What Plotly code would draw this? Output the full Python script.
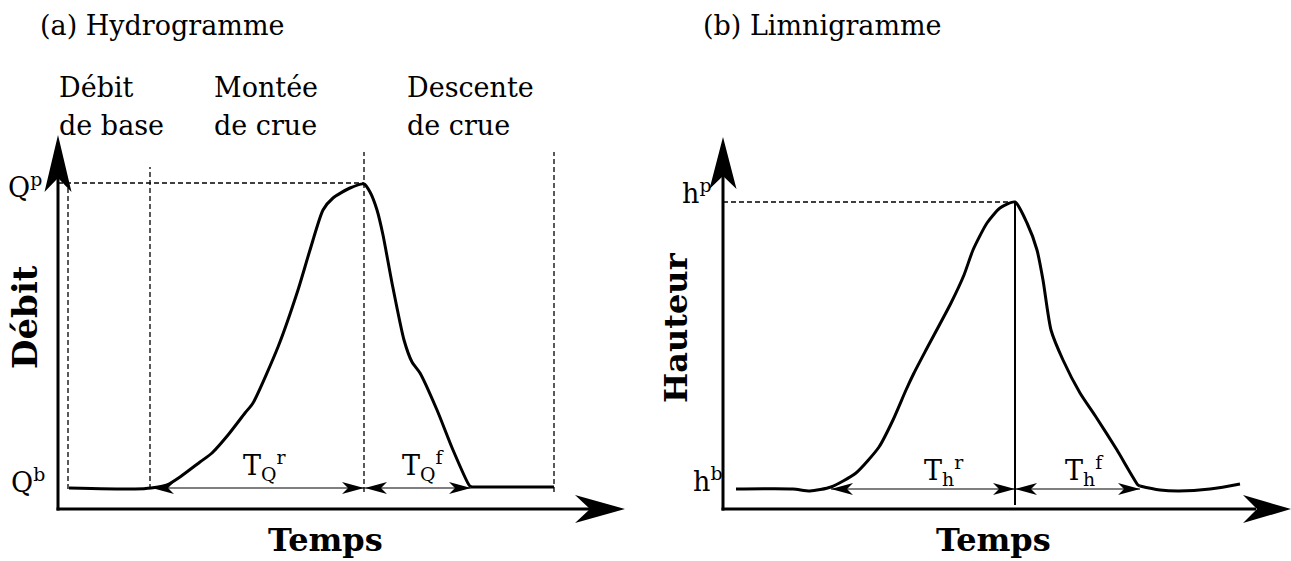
import plotly.graph_objects as go

# ---------------- data (schematic units: time / level) ----------------
# Panel (a) Hydrogramme
a_t = [1.1, 7.7, 9.3, 10.9, 12.2, 14.2, 15.4, 17.0, 18.7, 19.5, 22.0, 24.0, 25.2,
       26.5, 27.5, 29.2, 30.6, 31.2, 31.9, 32.5, 33.4, 34.6, 35.4, 36.2, 37.9,
       39.5, 41.1, 41.3]
a_q = [2.1, 2.0, 2.1, 2.4, 3.2, 4.7, 5.6, 7.4, 9.6, 10.6, 16.2, 21.9, 25.9,
       29.9, 31.1, 32.1, 32.5, 31.7, 29.9, 27.4, 22.6, 16.9, 14.7, 13.6, 9.9,
       5.9, 2.4, 2.2]
a_tail_t = [41.3, 49.6]
a_tail_q = [2.2, 2.2]

# Panel (b) Limnigramme
b_t = [1.3, 7.0, 8.7, 10.8, 13.3, 15.6, 17.0, 18.3, 19.1, 20.3, 22.8, 24.1,
       25.0, 26.4, 27.7, 29.2, 30.4, 31.4, 32.0, 32.8, 34.0, 35.7, 37.3, 39.4,
       41.5, 41.7]
b_h = [2.0, 2.0, 1.8, 2.2, 3.6, 6.2, 8.9, 11.9, 13.6, 15.9, 20.6, 23.4,
       25.9, 28.6, 30.1, 30.7, 28.6, 25.9, 22.9, 17.9, 14.9, 11.6, 9.2, 5.9,
       2.4, 2.3]
b_tail_t = [41.7, 43.7, 45.6, 48.7, 51.7]
b_tail_h = [2.3, 1.9, 1.8, 2.0, 2.5]

# key levels / times
a_peak_t, a_peak_q, a_base_q = 30.6, 32.6, 2.1
a_start_t, a_end_t = 9.4, 41.3
a_period_t = [1.0, 9.2, 30.6, 49.6]          # dashed period boundaries
a_period_top = [32.6, 34.2, 35.7, 35.7]
a_period_bot = [2.0, 2.0, 1.7, 1.7]
b_peak_t, b_peak_h, b_base_h = 29.2, 30.7, 2.0
b_start_t, b_end_t = 10.8, 41.7

# axes extents
a_xmax, a_ymax = 56.7, 37.4
b_xmax, b_ymax = 56.8, 37.2

# text labels
a_title, b_title = "(a) Hydrogramme", "(b) Limnigramme"
phase_line1 = ["Débit", "Montée", "Descente"]
phase_line2 = ["de base", "de crue", "de crue"]
phase_left = [-0.1, 15.4, 34.7]

SERIF = "DejaVu Serif"

fig = go.Figure()

# ---------------- axes layout ----------------
W, H = 1291, 561
fig.update_layout(
    width=W, height=H, margin=dict(l=0, r=0, t=0, b=0),
    paper_bgcolor="white", plot_bgcolor="white", showlegend=False,
    hovermode=False,
    xaxis=dict(domain=[0, 645 / W], range=[-5.8, 58.7], visible=False, fixedrange=True),
    yaxis=dict(domain=[0, 1], range=[-5.2, 50.9], visible=False, fixedrange=True),
    xaxis2=dict(domain=[645 / W, 1], range=[-7.8, 56.8], visible=False,
                anchor="y2", fixedrange=True),
    yaxis2=dict(domain=[0, 1], range=[-5.2, 50.9], visible=False,
                anchor="x2", fixedrange=True),
)

BLACK = "black"
DASH = "5px,3px"


def line(xs, ys, xa, ya, width=3, dash=None, shape="linear", smoothing=1.0):
    fig.add_trace(go.Scatter(
        x=xs, y=ys, xaxis=xa, yaxis=ya, mode="lines",
        line=dict(color=BLACK, width=width, dash=dash, shape=shape,
                  smoothing=smoothing),
        hoverinfo="skip"))


def arrowhead(tx, ty, direction, length, half, notch, xref, yref):
    """Filled stealth arrow head with tip at (tx, ty)."""
    dx, dy = {"right": (1, 0), "left": (-1, 0), "up": (0, 1)}[direction]
    px, py = -dy, dx
    bx, by = tx - dx * length, ty - dy * length
    nx, ny = tx - dx * notch, ty - dy * notch
    p1 = (bx + px * half, by + py * half)
    p2 = (bx - px * half, by - py * half)
    path = (f"M {tx},{ty} L {p1[0]},{p1[1]} L {nx},{ny} "
            f"L {p2[0]},{p2[1]} Z")
    fig.add_shape(type="path", path=path, xref=xref, yref=yref,
                  fillcolor=BLACK, line=dict(width=0), layer="above")


def text(s, x, y, xref, yref, size=27, xanchor="left", bold=False,
         angle=0, yanchor="middle"):
    if bold:
        s = f"<b>{s}</b>"
    fig.add_annotation(text=s, x=x, y=y, xref=xref, yref=yref,
                       showarrow=False, xanchor=xanchor, yanchor=yanchor,
                       textangle=angle, align="left",
                       font=dict(family=SERIF, size=size, color=BLACK))


# ---------------- panel (a) ----------------
line([0, a_peak_t], [a_peak_q, a_peak_q], "x", "y", width=1.3, dash=DASH)
for t, top, bot in zip(a_period_t, a_period_top, a_period_bot):
    line([t, t], [bot, top], "x", "y", width=1.3, dash=DASH)

line([a_start_t, a_peak_t], [a_base_q, a_base_q], "x", "y", width=1.2)
line([a_peak_t, a_end_t], [a_base_q, a_base_q], "x", "y", width=1.2)
arrowhead(a_start_t, a_base_q, "left", 2.2, 0.6, 1.6, "x", "y")
arrowhead(a_peak_t, a_base_q, "right", 2.2, 0.6, 1.6, "x", "y")
arrowhead(a_peak_t + 0.1, a_base_q, "left", 2.2, 0.6, 1.6, "x", "y")
arrowhead(a_end_t, a_base_q, "right", 2.2, 0.6, 1.6, "x", "y")

line(a_t, a_q, "x", "y", width=3, shape="spline", smoothing=0.6)
line(a_tail_t, a_tail_q, "x", "y", width=3)

line([0, 0], [-0.15, a_ymax - 3.5], "x", "y", width=3)
line([-0.15, a_xmax - 3.5], [0, 0], "x", "y", width=3)
arrowhead(0, a_ymax, "up", 5.7, 1.35, 4.3, "x", "y")
arrowhead(a_xmax, 0, "right", 5.0, 1.4, 3.5, "x", "y")

text(a_title, -2.0, 48.4, "x", "y")
for l1, l2, x0 in zip(phase_line1, phase_line2, phase_left):
    text(l1, x0, 42.2, "x", "y")
    text(l2, x0, 38.4, "x", "y")
text("Q<sup>p</sup>", -5.2, 32.4, "x", "y")
text("Q<sup>b</sup>", -4.9, 2.9, "x", "y")
text("Débit", -3.3, 19.2, "x", "y", size=34, bold=True, angle=-90,
     xanchor="center")
text("Temps", 26.7, -3.1, "x", "y", size=32, bold=True, xanchor="center")
text("T<sub>Q</sub><sup>r</sup>", 18.3, 4.4, "x", "y")
text("T<sub>Q</sub><sup>f</sup>", 34.2, 4.4, "x", "y")

# ---------------- panel (b) ----------------
line([0, b_peak_t], [b_peak_h, b_peak_h], "x2", "y2", width=1.3, dash=DASH)
line([b_peak_t, b_peak_t], [0.4, b_peak_h], "x2", "y2", width=2)

line([b_start_t, b_peak_t], [b_base_h, b_base_h], "x2", "y2", width=1.2)
line([b_peak_t, b_end_t], [b_base_h, b_base_h], "x2", "y2", width=1.2)
arrowhead(b_start_t, b_base_h, "left", 2.2, 0.6, 1.6, "x2", "y2")
arrowhead(b_peak_t, b_base_h, "right", 2.2, 0.6, 1.6, "x2", "y2")
arrowhead(b_peak_t, b_base_h, "left", 2.2, 0.6, 1.6, "x2", "y2")
arrowhead(b_end_t, b_base_h, "right", 2.2, 0.6, 1.6, "x2", "y2")

line(b_t, b_h, "x2", "y2", width=3, shape="spline", smoothing=0.6)
line(b_tail_t, b_tail_h, "x2", "y2", width=3, shape="spline", smoothing=1.0)

line([0, 0], [-0.15, b_ymax - 3.5], "x2", "y2", width=3)
line([-0.15, b_xmax - 3.5], [0, 0], "x2", "y2", width=3)
arrowhead(0, b_ymax, "up", 5.2, 1.35, 3.9, "x2", "y2")
arrowhead(b_xmax, 0, "right", 4.8, 1.4, 3.4, "x2", "y2")

text(b_title, -2.2, 48.4, "x2", "y2")
text("h<sup>p</sup>", -4.3, 31.8, "x2", "y2")
text("h<sup>b</sup>", -3.2, 3.0, "x2", "y2")
text("Hauteur", -4.7, 18.1, "x2", "y2", size=32, bold=True, angle=-90,
     xanchor="center")
text("Temps", 27.0, -3.1, "x2", "y2", size=32, bold=True, xanchor="center")
text("T<sub>h</sub><sup>r</sup>", 19.9, 3.9, "x2", "y2")
text("T<sub>h</sub><sup>f</sup>", 34.0, 3.9, "x2", "y2")

fig.write_html(
    "out.html",
    config={"displayModeBar": False, "staticPlot": True},
    post_script="document.body.style.margin='0';document.body.style.padding='0';",
)
